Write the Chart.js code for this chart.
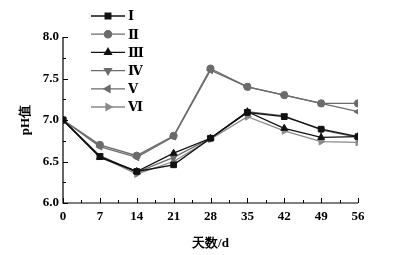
<!DOCTYPE html>
<html>
<head>
<meta charset="utf-8">
<script src="https://cdn.jsdelivr.net/npm/chart.js@4"></script>
<style>
  html, body { margin: 0; padding: 0; background: #fff; }
  #wrap { width: 396px; height: 255px; }
</style>
</head>
<body>
<div id="wrap"><canvas id="c" width="396" height="255"></canvas></div>
<script>
// pH 随天数变化 (六个处理)
const days = [0, 7, 14, 21, 28, 35, 42, 49, 56];
const names = ['Ⅰ', 'Ⅱ', 'Ⅲ', 'Ⅳ', 'Ⅴ', 'Ⅵ'];
const phI   = [7.00, 6.56, 6.38, 6.46, 6.78, 7.09, 7.04, 6.89, 6.80];
const phII  = [7.00, 6.70, 6.57, 6.81, 7.62, 7.40, 7.30, 7.20, 7.20];
const phIII = [7.00, 6.55, 6.38, 6.60, 6.78, 7.10, 6.90, 6.79, 6.80];
const phIV  = [7.00, 6.57, 6.37, 6.55, 6.78, 7.10, 7.05, 6.88, 6.79];
const phV   = [7.00, 6.68, 6.55, 6.80, 7.60, 7.40, 7.30, 7.20, 7.10];
const phVI  = [7.00, 6.56, 6.35, 6.50, 6.77, 7.04, 6.87, 6.74, 6.73];
const yTicks = [6.0, 6.5, 7.0, 7.5, 8.0];

const SERIF = "'Liberation Serif', 'DejaVu Serif', serif";
const BLACK = '#111';
const GREY = '#6b6b6b';

function mk(label, data, color, style, rot) {
  return {
    label, data: data.map((v, i) => ({ x: days[i], y: v })),
    borderColor: color, backgroundColor: color, borderWidth: 1.3,
    pointStyle: style, pointRotation: rot, pointRadius: style === 'circle' ? 3.6 : 4,
    pointBorderWidth: 1, tension: 0
  };
}

const datasets = [
  mk(names[0], phI, BLACK, 'rect', 0),
  mk(names[1], phII, GREY, 'circle', 0),
  mk(names[2], phIII, BLACK, 'triangle', 0),
  mk(names[3], phIV, GREY, 'triangle', 180),
  mk(names[4], phV, GREY, 'triangle', -90),
  mk(names[5], phVI, '#8a8a8a', 'triangle', 90)
];

// 坐标轴刻度朝内 + 自绘图例
const axisPlugin = {
  id: 'axisTicks',
  afterDatasetsDraw(chart) {
    const { ctx, chartArea: a, scales: { x, y } } = chart;
    ctx.save();
    ctx.strokeStyle = '#000';
    ctx.lineWidth = 1.2;
    ctx.beginPath();
    ctx.moveTo(a.left, a.top); ctx.lineTo(a.left, a.bottom); ctx.lineTo(a.right, a.bottom);
    ctx.stroke();
    ctx.lineWidth = 1;
    ctx.beginPath();
    for (let v = 0; v <= 56; v += 3.5) {
      const px = Math.round(x.getPixelForValue(v)) + 0.5;
      const len = v % 7 === 0 ? 5 : 3;
      ctx.moveTo(px, a.bottom); ctx.lineTo(px, a.bottom - len);
    }
    for (let v = 6; v <= 8.001; v += 0.25) {
      const py = Math.round(y.getPixelForValue(v)) + 0.5;
      const len = Math.abs(v * 2 - Math.round(v * 2)) < 1e-6 ? 5 : 3;
      ctx.moveTo(a.left, py); ctx.lineTo(a.left + len, py);
    }
    ctx.stroke();

    // legend
    const lx0 = 91, lx1 = 125, ly0 = 16, step = 18.2;
    chart.data.datasets.forEach((ds, i) => {
      const yy = ly0 + i * step;
      ctx.strokeStyle = ds.borderColor;
      ctx.lineWidth = ds.borderWidth;
      ctx.beginPath(); ctx.moveTo(lx0, yy); ctx.lineTo(lx1, yy); ctx.stroke();
      ctx.fillStyle = ds.backgroundColor;
      Chart.helpers.drawPoint(ctx, {
        pointStyle: ds.pointStyle, rotation: ds.pointRotation,
        radius: ds.pointRadius, borderWidth: 1
      }, (lx0 + lx1) / 2, yy);
      ctx.fillStyle = '#000';
      ctx.font = 'bold 13px ' + SERIF;
      ctx.textBaseline = 'middle';
      ctx.textAlign = 'left';
      ctx.fillText(ds.label, lx1 + 3, yy + 1);
    });
    ctx.restore();
  }
};

new Chart(document.getElementById('c'), {
  type: 'line',
  data: { datasets },
  options: {
    responsive: false,
    animation: false,
    layout: { padding: { left: 0, top: 37, right: 38, bottom: 0 } },
    plugins: { legend: { display: false }, tooltip: { enabled: false } },
    scales: {
      x: {
        type: 'linear', min: 0, max: 56,
        afterFit: s => { s.height = 52; },
        afterBuildTicks: s => { s.ticks = days.map(v => ({ value: v })); },
        grid: { display: false, tickLength: 0 },
        border: { display: false },
        ticks: { color: '#000', padding: 6, font: { family: SERIF, size: 13, weight: 'bold' } },
        title: { display: true, text: '天数/d', color: '#000', padding: { top: 5 },
                 font: { family: SERIF, size: 13, weight: 'bold' } }
      },
      y: {
        min: 6, max: 8,
        afterFit: s => { s.width = 63; },
        afterBuildTicks: s => { s.ticks = yTicks.map(v => ({ value: v })); },
        grid: { display: false, tickLength: 0 },
        border: { display: false },
        ticks: { color: '#000', padding: 4, font: { family: SERIF, size: 13, weight: 'bold' },
                 callback: v => v.toFixed(1) },
        title: { display: true, text: 'pH值', color: '#000', padding: { top: 18, bottom: 0 },
                 font: { family: SERIF, size: 13, weight: 'bold' } }
      }
    }
  },
  plugins: [axisPlugin]
});
</script>
</body>
</html>
